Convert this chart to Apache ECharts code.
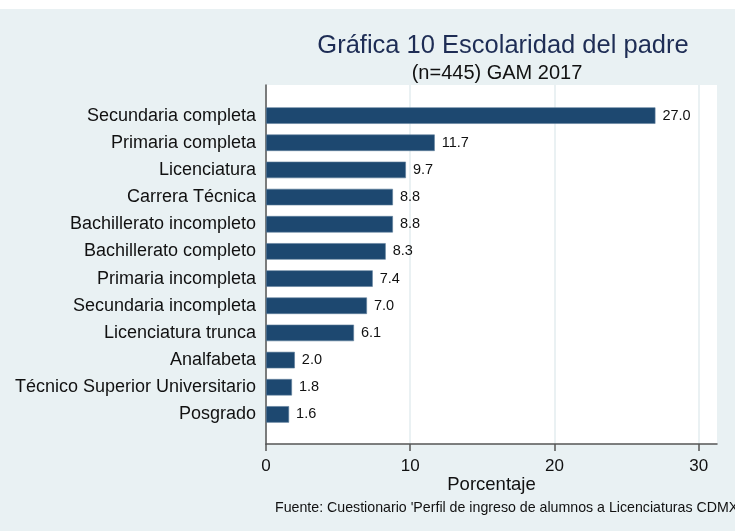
<!DOCTYPE html>
<html>
<head>
<meta charset="utf-8">
<script src="https://cdn.jsdelivr.net/npm/echarts@6/dist/echarts.min.js"></script>
<style>
  html, body { margin: 0; padding: 0; background: #fff; }
  #chart { width: 735px; height: 531px; }
</style>
</head>
<body>
<div id="chart"></div>
<script>
// datos
var categorias = [
  "Secundaria completa",
  "Primaria completa",
  "Licenciatura",
  "Carrera Técnica",
  "Bachillerato incompleto",
  "Bachillerato completo",
  "Primaria incompleta",
  "Secundaria incompleta",
  "Licenciatura trunca",
  "Analfabeta",
  "Técnico Superior Universitario",
  "Posgrado"
];
var porcentajes = [27.0, 11.7, 9.7, 8.8, 8.8, 8.3, 7.4, 7.0, 6.1, 2.0, 1.8, 1.6];
var ticksX = [0, 10, 20, 30];

var fuente = "Liberation Sans, Arial, sans-serif";
var ejeMax = 31.27;
var myChart = echarts.init(document.getElementById("chart"));
var option = {
  backgroundColor: "#E9F1F3",
  textStyle: { fontFamily: fuente },
  graphic: [
    {
      type: "rect",
      shape: { x: 0, y: 0, width: 735, height: 9 },
      style: { fill: "#fff" },
      silent: true
    }
  ],
  title: [
    {
      text: "Gráfica 10 Escolaridad del padre",
      left: 498, top: 28, textAlign: "center",
      textStyle: { fontSize: 25.5, fontWeight: "normal", color: "#1E2D55", fontFamily: fuente }
    },
    {
      text: "(n=445) GAM 2017",
      left: 492, top: 58, textAlign: "center",
      textStyle: { fontSize: 20, fontWeight: "normal", color: "#111", fontFamily: fuente }
    },
    {
      text: "Fuente: Cuestionario 'Perfil de ingreso de alumnos a Licenciaturas CDMX",
      left: 270, top: 496,
      textStyle: { fontSize: 14.2, fontWeight: "normal", color: "#111", fontFamily: fuente }
    }
  ],
  grid: [
    // area blanca con eje
    { left: 266, right: 18, top: 85, bottom: 87, show: true, backgroundColor: "#fff", borderWidth: 0 },
    // area de las barras
    { left: 266, right: 18, top: 102, bottom: 103 },
    // marcas y cuadricula hasta 30
    { left: 266, right: 36.3, top: 85, bottom: 87 }
  ],
  xAxis: [
    {
      gridIndex: 0,
      type: "value",
      min: 0, max: ejeMax,
      name: "Porcentaje",
      nameLocation: "middle",
      nameGap: 31,
      nameTextStyle: { fontSize: 18.5, color: "#111" },
      axisLine: { show: true, lineStyle: { color: "#555", width: 1.5 } },
      axisTick: { show: false },
      axisLabel: { show: false },
      splitLine: { show: false }
    },
    {
      gridIndex: 1,
      type: "value",
      min: 0, max: ejeMax,
      show: false
    },
    {
      gridIndex: 2,
      type: "value",
      min: ticksX[0], max: ticksX[ticksX.length - 1], interval: 10,
      axisLine: { show: false },
      axisTick: { show: true, length: 7, lineStyle: { color: "#555", width: 1.5 } },
      axisLabel: { fontSize: 17, color: "#111", margin: 14 },
      splitLine: { show: true, lineStyle: { color: "#E3ECEF", width: 1.5 } }
    }
  ],
  yAxis: [
    {
      gridIndex: 0,
      type: "value",
      min: 0, max: 1,
      axisLine: { show: true, lineStyle: { color: "#555", width: 1.5 } },
      axisTick: { show: false },
      axisLabel: { show: false },
      splitLine: { show: false }
    },
    {
      gridIndex: 1,
      type: "category",
      inverse: true,
      data: categorias,
      axisLine: { show: false },
      axisTick: { show: false },
      axisLabel: { fontSize: 18, color: "#111", margin: 10 }
    },
    {
      gridIndex: 2,
      type: "value",
      min: 0, max: 1,
      show: false
    }
  ],
  series: [
    {
      type: "bar",
      xAxisIndex: 1,
      yAxisIndex: 1,
      data: porcentajes,
      barWidth: 16.5,
      z: 3,
      itemStyle: { color: "#1D4870", borderColor: "#5F7F9C", borderWidth: 0.6 },
      label: {
        show: true,
        position: "right",
        distance: 7,
        fontSize: 14.5,
        color: "#111",
        formatter: function (p) { return p.value.toFixed(1); }
      }
    }
  ]
};
option && myChart.setOption(option);
</script>
</body>
</html>
